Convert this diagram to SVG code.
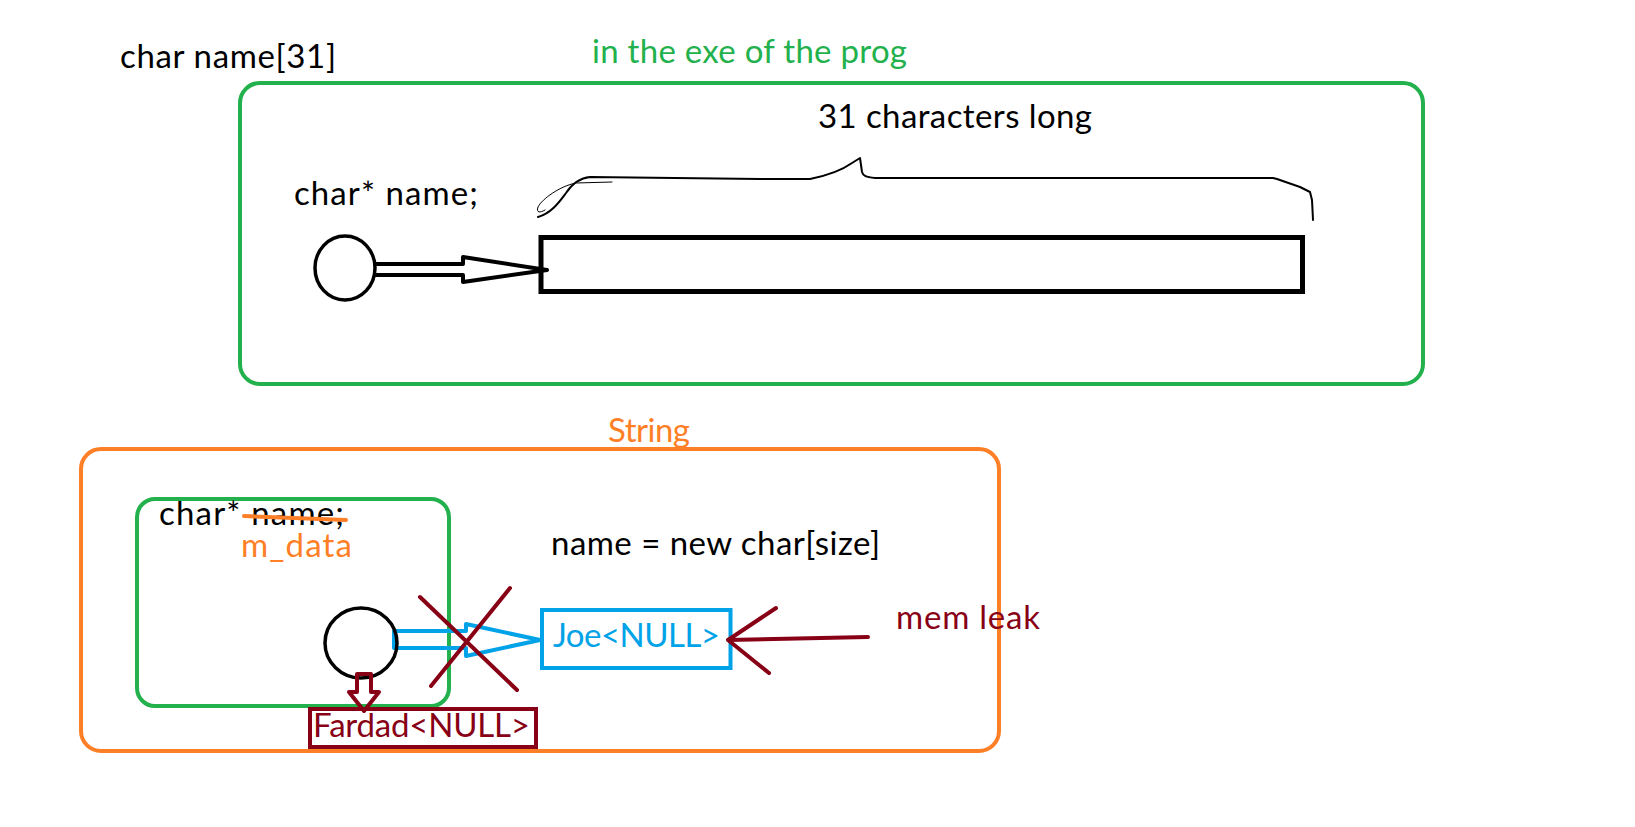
<svg xmlns="http://www.w3.org/2000/svg" width="1635" height="827" viewBox="0 0 1635 827">
<style>
.t{font-family:Lato,"Open Sans","Liberation Sans",sans-serif;font-size:33px;fill:#000}
.g{fill:#22b14c}.o{fill:#ff7f27}.b{fill:#00a2e8}.r{fill:#880015}
.box{fill:none;stroke-width:4}
.ln{fill:none;stroke-linecap:round;stroke-linejoin:round}
</style>
<rect width="1635" height="827" fill="#fff"/>
<g id="labels-top">
<text class="t" x="120" y="68" textLength="216">char name[31]</text>
<text class="t g" x="592" y="63" textLength="315">in the exe of the prog</text>
</g>
<g id="exe-box">
<rect class="box" x="240" y="83" width="1183" height="301" rx="20" stroke="#22b14c"/>
<text class="t" x="818" y="128" textLength="274">31 characters long</text>
<text class="t" x="294" y="205" textLength="184">char* name;</text>
</g>
<g id="brace">
<path class="ln" stroke="#000" stroke-width="2" d="M538,217 C552,213 560,201 566,193 C572,184 579,178 590,177 L760,179 L810,179 C830,175 845,168 852,163 L860,158 L862,172 C863,176 866,177 875,178 L1273,178 L1277,179 L1300,187 L1310,192 L1312,200 L1313,220"/>
<path class="ln" stroke="#000" stroke-width="1" d="M612,182 L576,183 C560,186 542,199 538,207 C536,213 540,213 545,210"/>
</g>
<g id="array-rect">
<rect x="541" y="237.5" width="761.5" height="54" fill="none" stroke="#000" stroke-width="5"/>
</g>
<g id="pointer-top">
<ellipse cx="345" cy="268" rx="30" ry="32" fill="none" stroke="#000" stroke-width="3.5"/>
</g>
<g id="string-box">
<rect class="box" x="81" y="449" width="918" height="302" rx="20" stroke="#ff7f27"/>
<text class="t o" x="608" y="442" textLength="82">String</text>
</g>
<g id="member-box">
<rect class="box" x="137" y="499" width="312" height="207" rx="18" stroke="#22b14c"/>
<text class="t" x="159" y="525" textLength="185">char* name;</text>
<line x1="244" y1="516" x2="346" y2="520" stroke="#ff7f27" stroke-width="4" stroke-linecap="round"/>
<text class="t o" x="241" y="557" textLength="111">m_data</text>
</g>
<g id="new-label">
<text class="t" x="551" y="555" textLength="329">name = new char[size]</text>
</g>
<g id="joe-box">
<rect class="box" x="542" y="610" width="188.5" height="58" stroke="#00a2e8"/>
<text class="t b" x="553" y="647" textLength="167">Joe&lt;NULL&gt;</text>
</g>
<g id="mem-leak-label">
<text class="t r" x="896" y="629" textLength="144">mem leak</text>
</g>
<g id="fardad-box">
<rect class="box" x="310" y="709" width="226" height="38" stroke="#880015"/>
<text class="t r" x="313" y="737" textLength="217">Fardad&lt;NULL&gt;</text>
</g>
<g id="connectors">
<path class="ln" stroke="#000" stroke-width="4" d="M375,264 L463,264 L463,257 L547,270 L463,282 L463,275 L375,275"/>
<path class="ln" stroke="#00a2e8" stroke-width="4" d="M394,631 L394,648 L466,648 L466,656 L540,640 L466,624 L466,631 Z"/>
<ellipse id="pointer-bottom" cx="361" cy="643" rx="36" ry="35" fill="none" stroke="#000" stroke-width="3.5"/>
<path class="ln" stroke="#880015" stroke-width="4" d="M420,597 L517,690 M510,588 L431,686"/>
<path class="ln" stroke="#880015" stroke-width="4" d="M357,674 L357,692 L349,692 L364,711 L379,692 L371,692 L371,674 Z"/>
<path class="ln" stroke="#880015" stroke-width="4" d="M868,637 L728,640 M776,608 L728,640 L769,673"/>
</g>
</svg>
